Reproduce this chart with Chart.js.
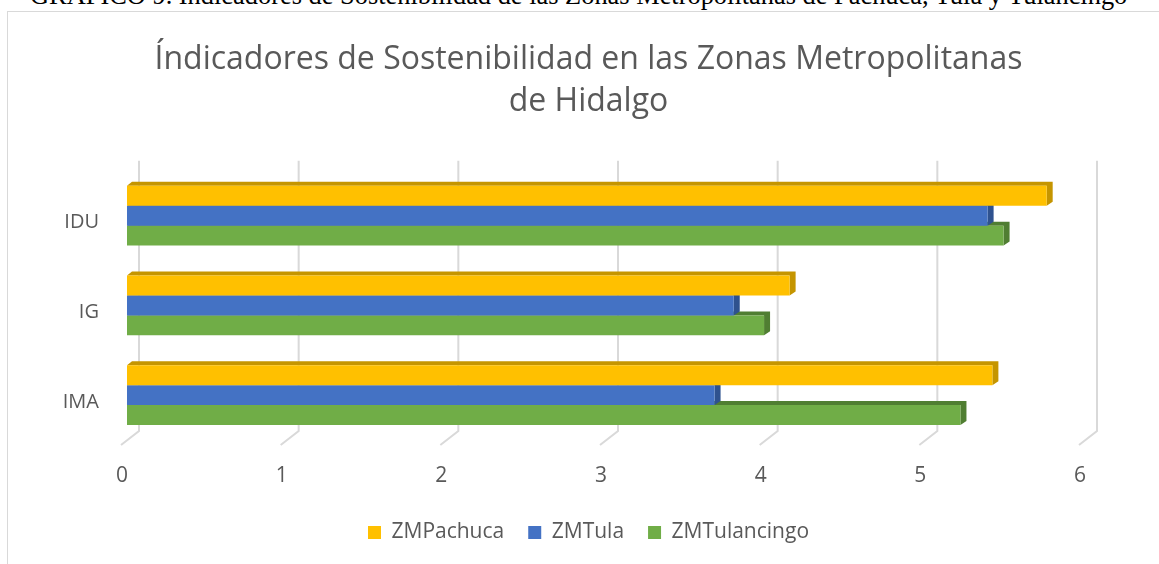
<!DOCTYPE html>
<html>
<head>
<meta charset="utf-8">
<script src="https://cdn.jsdelivr.net/npm/chart.js@4.4.0/dist/chart.umd.min.js"></script>
<style>
  body { margin: 0; background: #fff; width: 1159px; height: 564px; overflow: hidden; position: relative; }
  #caption { position: absolute; left: 30px; top: -18px; font-family: "Liberation Serif"; font-size: 26.4px; line-height: 26px; color: #000; white-space: nowrap; }
  #frame { position: absolute; left: 7px; top: 11px; width: 1200px; height: 600px; border: 1.5px solid #d9d9d9; }
  canvas { position: absolute; left: 0; top: 0; }
</style>
</head>
<body>
<div id="caption">GRÁFICO 9. Indicadores de Sostenibilidad de las Zonas Metropolitanas de Pachuca, Tula y Tulancingo</div>
<div id="frame"></div>
<canvas id="chart" width="1159" height="564"></canvas>
<script>
const categories = ['IDU', 'IG', 'IMA'];
const pachuca = [5.76, 4.15, 5.42];
const tula = [5.39, 3.80, 3.68];
const tulancingo = [5.49, 3.99, 5.22];
const xTicks = [0, 1, 2, 3, 4, 5, 6];

const faceColors = ['#C59500', '#2F528F', '#507E32'];

// fake 3D: back wall grid + top/side faces of the bars
const depth3d = {
    id: 'depth3d',
    beforeDatasetsDraw(chart) {
        const { ctx, chartArea, scales: { x } } = chart;
        ctx.save();
        ctx.strokeStyle = '#d9d9d9';
        ctx.lineWidth = 2;
        xTicks.forEach(v => {
            const px = x.getPixelForValue(v);
            ctx.beginPath();
            ctx.moveTo(px + 12, chartArea.top - 10);
            ctx.lineTo(px + 12, chartArea.bottom - 9);
            ctx.lineTo(px - 6, chartArea.bottom + 5);
            ctx.stroke();
        });
        for (let d = chart.data.datasets.length - 1; d >= 0; d--) {
            chart.getDatasetMeta(d).data.forEach(bar => {
                const top = bar.y - bar.height / 2;
                const bottom = bar.y + bar.height / 2;
                ctx.fillStyle = faceColors[d];
                ctx.beginPath();
                ctx.moveTo(bar.base, top);
                ctx.lineTo(bar.base + 5, top - 4);
                ctx.lineTo(bar.x + 6, top - 4);
                ctx.lineTo(bar.x + 6, bottom - 4);
                ctx.lineTo(bar.x, bottom);
                ctx.lineTo(bar.x, top);
                ctx.closePath();
                ctx.fill();
            });
        }
        ctx.restore();
    }
};

const textColor = '#595959';
const fontFamily = '"Open Sans", sans-serif';

new Chart(document.getElementById('chart'), {
    type: 'bar',
    data: {
        labels: categories,
        datasets: [
            { label: 'ZMPachuca', data: pachuca, backgroundColor: '#FFC000' },
            { label: 'ZMTula', data: tula, backgroundColor: '#4472C4' },
            { label: 'ZMTulancingo', data: tulancingo, backgroundColor: '#70AD47' }
        ]
    },
    options: {
        indexAxis: 'y',
        responsive: false,
        animation: false,
        barPercentage: 1,
        categoryPercentage: 0.667,
        layout: { padding: { left: 18, right: 0, top: 0, bottom: 11 } },
        plugins: {
            title: {
                display: true,
                text: ['Índicadores de Sostenibilidad en las Zonas Metropolitanas', 'de Hidalgo'],
                color: textColor,
                font: { family: fontFamily, size: 32, weight: 'normal', lineHeight: 1.31 },
                padding: { top: 39, bottom: 48 }
            },
            legend: {
                position: 'bottom',
                labels: {
                    color: textColor,
                    font: { family: fontFamily, size: 21 },
                    boxWidth: 13,
                    boxHeight: 13,
                    padding: 24
                }
            },
            tooltip: { enabled: false }
        },
        scales: {
            x: {
                min: 0,
                max: 6,
                grid: { display: false },
                border: { display: false },
                ticks: {
                    stepSize: 1,
                    color: textColor,
                    font: { family: fontFamily, size: 21 },
                    padding: 15,
                    labelOffset: -5
                },
                afterFit: scale => { scale.height = 58; }
            },
            y: {
                grid: { display: false },
                border: { display: false },
                ticks: {
                    color: textColor,
                    font: { family: fontFamily, size: 20 },
                    padding: 20,
                    labelOffset: 7
                },
                afterFit: scale => { scale.width = 109; }
            },
            // empty right-hand spacer so the plot ends where the reference does
            spacer: {
                type: 'category',
                position: 'right',
                grid: { display: false },
                border: { display: false },
                ticks: { display: false },
                afterFit: scale => { scale.width = 74; }
            }
        }
    },
    plugins: [depth3d]
});
</script>
</body>
</html>
